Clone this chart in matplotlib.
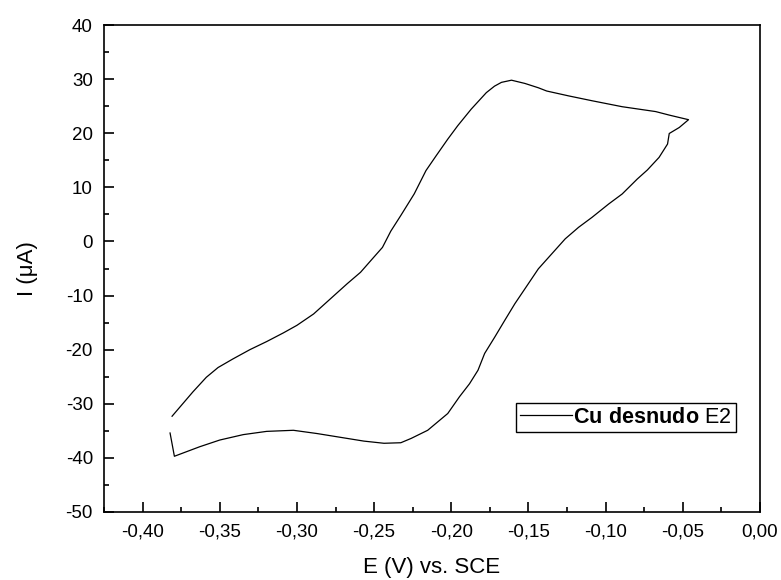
import matplotlib
matplotlib.use("Agg")
import matplotlib.pyplot as plt
from matplotlib.ticker import MultipleLocator, FuncFormatter

plt.rcParams['font.family'] = ['Liberation Sans', 'DejaVu Sans']
plt.rcParams['mathtext.fontset'] = 'custom'
plt.rcParams['mathtext.rm'] = 'Liberation Sans'
plt.rcParams['mathtext.bf'] = 'Liberation Sans:bold'

# Forward scan (lower branch), then reverse scan (upper branch)
E_forward = [-0.3822, -0.3794, -0.3631, -0.3500, -0.3348, -0.3196, -0.3023, -0.2870,
             -0.2718, -0.2566, -0.2436, -0.2327, -0.2260, -0.2153, -0.2088, -0.2023,
             -0.1947, -0.1882, -0.1827, -0.1784, -0.1719, -0.1654, -0.1588, -0.1523,
             -0.1436, -0.1349, -0.1262, -0.1175, -0.1088, -0.0980, -0.0893, -0.0795,
             -0.0730, -0.0654, -0.0599, -0.0588, -0.0523, -0.0463]
I_forward = [-35.4, -39.7, -37.95, -36.7, -35.7, -35.1, -34.9, -35.5,
             -36.2, -36.9, -37.3, -37.2, -36.4, -34.9, -33.35, -31.8,
             -28.7, -26.3, -23.8, -20.7, -17.7, -14.6, -11.5, -8.75,
             -5.06, -2.29, 0.48, 2.62, 4.46, 6.93, 8.77, 11.54,
             13.2, 15.53, 18.0, 19.95, 21.06, 22.5]
E_reverse = [-0.0588, -0.0676, -0.0893, -0.1088, -0.1240, -0.1382, -0.1436, -0.1523,
             -0.1610, -0.1675, -0.1720, -0.1773, -0.1871, -0.1958, -0.2023, -0.2099,
             -0.2164, -0.2240, -0.2327, -0.2392, -0.2446, -0.2511, -0.2588, -0.2674,
             -0.2783, -0.2892, -0.3000, -0.3088, -0.3196, -0.3305, -0.3414, -0.3511,
             -0.3587, -0.3674, -0.3740, -0.3809]
I_reverse = [23.35, 24.0, 24.9, 26.0, 26.9, 27.8, 28.4, 29.2,
             29.8, 29.4, 28.7, 27.5, 24.45, 21.4, 18.9, 15.8,
             13.1, 8.8, 4.8, 1.9, -1.1, -3.2, -5.7, -7.8,
             -10.6, -13.4, -15.5, -16.9, -18.5, -20.0, -21.7, -23.3,
             -25.1, -27.8, -30.0, -32.3]

E_all = E_forward + E_reverse
I_all = I_forward + I_reverse

x_ticks = [-0.40, -0.35, -0.30, -0.25, -0.20, -0.15, -0.10, -0.05, 0.00]
y_ticks = [40, 30, 20, 10, 0, -10, -20, -30, -40, -50]

fig = plt.figure(figsize=(7.81, 5.80), dpi=100)
ax = fig.add_axes([104/781, 1-512/580, (760-104)/781, (512-25)/580])

ax.plot(E_all, I_all, color='black', linewidth=0.9,
        label=r'$\mathbf{Cu\ desnudo}$ E2')

ax.set_xlim(-0.425, 0.0)
ax.set_ylim(-50, 40)
ax.set_xticks(x_ticks)
ax.set_yticks(y_ticks)
ax.xaxis.set_minor_locator(MultipleLocator(0.025))
ax.yaxis.set_minor_locator(MultipleLocator(5))
ax.xaxis.set_major_formatter(FuncFormatter(lambda v, p: f"{v:.2f}".replace('.', ',').replace('-0,00', '0,00')))
ax.yaxis.set_major_formatter(FuncFormatter(lambda v, p: f"{int(round(v))}"))

ax.tick_params(which='both', direction='in', top=False, right=False,
               labelsize=13.5, width=1.2, color='black')
ax.tick_params(which='major', length=7)
ax.tick_params(which='minor', length=3.6)
ax.tick_params(axis='x', which='major', pad=8)
ax.tick_params(axis='y', which='major', pad=8)
for s in ax.spines.values():
    s.set_linewidth(1.2)

ax.set_xlabel('E (V) vs. SCE', fontsize=16, labelpad=12)
ax.set_ylabel('I (μA)', fontsize=16, labelpad=20)

leg = ax.legend(loc='lower right', bbox_to_anchor=(0.963, 0.164), borderaxespad=0,
                fontsize=15.5, frameon=True, fancybox=False, framealpha=1,
                edgecolor='black', borderpad=0.2, handlelength=2.4,
                handletextpad=0.05)
leg.get_frame().set_linewidth(1.0)

fig.savefig('out.png', dpi=100)
